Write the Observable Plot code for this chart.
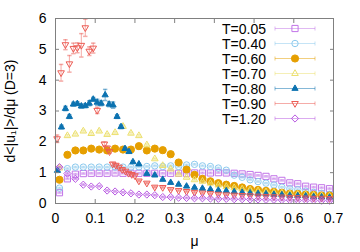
<!DOCTYPE html>
<html>
<head>
<meta charset="utf-8">
<script src="https://cdn.jsdelivr.net/npm/d3@7"></script>
<script src="https://cdn.jsdelivr.net/npm/@observablehq/plot@0.6"></script>
<style>
html,body{margin:0;padding:0;background:#fff;}
#chart{width:360px;height:252px;}
</style>
</head>
<body>
<div id="chart"></div>
<script>
// ---------- data ----------
const names = ["T=0.05","T=0.40","T=0.60","T=0.70","T=0.80","T=0.90","T=1.20"];
const xTicks = [0,0.1,0.2,0.3,0.4,0.5,0.6,0.7];
const yTicks = [0,1,2,3,4,5,6];
const xLabel = "μ";
const yLabel = "d<|u₁|>/dμ (D=3)";

const mu = [0.01,0.03,0.05,0.07,0.09,0.11,0.13,0.15,0.17,0.19,0.21,0.23,0.25,0.27,0.29,0.31,0.33,0.35,0.37,0.39,0.41,0.43,0.45,0.47,0.49,0.51,0.53,0.55,0.57,0.59,0.61,0.63,0.65,0.67,0.69];

const yT005 = [0.35,0.80,0.95,0.97,0.98,0.98,0.98,0.99,0.98,0.98,0.98,0.98,0.98,0.98,0.98,0.98,0.98,0.99,0.99,0.99,1.00,0.99,0.98,0.96,0.94,0.91,0.88,0.80,0.75,0.67,0.64,0.56,0.53,0.51,0.48];
const eT005 = [0.02,0.02,0.02,0.02,0.02,0.02,0.02,0.02,0.02,0.02,0.02,0.02,0.02,0.02,0.02,0.02,0.02,0.02,0.02,0.02,0.02,0.02,0.02,0.02,0.02,0.02,0.02,0.02,0.02,0.02,0.02,0.02,0.02,0.02,0.02];

const yT040 = [0.50,1.13,1.18,1.18,1.18,1.18,1.18,1.18,1.18,1.18,1.19,1.20,1.22,1.20,1.22,1.20,1.25,1.27,1.22,1.20,1.15,1.08,0.92,0.85,0.77,0.71,0.66,0.60,0.53,0.48,0.45,0.40,0.36,0.33,0.30];
const eT040 = [0.02,0.02,0.02,0.02,0.02,0.02,0.02,0.02,0.02,0.02,0.02,0.02,0.02,0.02,0.02,0.02,0.02,0.02,0.02,0.02,0.02,0.02,0.02,0.02,0.02,0.02,0.02,0.02,0.02,0.02,0.02,0.02,0.02,0.02,0.02];

const yT060 = [0.77,1.58,1.72,1.72,1.78,1.75,1.72,1.78,1.75,1.75,1.86,1.72,1.78,1.73,1.60,1.33,1.10,0.93,0.80,0.72,0.66,0.61,0.57,0.52,0.47,0.44,0.41,0.38,0.35,0.32,0.31,0.29,0.28,0.26,0.26];
const eT060 = [0.02,0.02,0.02,0.02,0.02,0.02,0.02,0.02,0.02,0.02,0.02,0.02,0.02,0.02,0.02,0.02,0.02,0.02,0.02,0.02,0.02,0.02,0.02,0.02,0.02,0.02,0.02,0.02,0.02,0.02,0.02,0.02,0.02,0.02,0.02];

const yT070 = [1.15,2.20,2.25,2.35,2.27,2.35,2.24,2.30,2.50,2.28,2.20,1.90,1.45,1.23,1.12,0.95,0.85,0.77,0.72,0.66,0.60,0.55,0.51,0.47,0.44,0.41,0.38,0.36,0.34,0.32,0.30,0.28,0.27,0.25,0.24];
const eT070 = [0.03,0.03,0.03,0.03,0.03,0.03,0.03,0.03,0.03,0.03,0.03,0.03,0.02,0.02,0.02,0.02,0.02,0.02,0.02,0.02,0.02,0.02,0.02,0.02,0.02,0.02,0.02,0.02,0.02,0.02,0.02,0.02,0.02,0.02,0.02];

const muT080 = [0.005,0.015,0.025,0.035,0.045,0.055,0.065,0.075,0.085,0.095,0.105,0.115,0.125,0.135,0.145,0.155,0.165,0.175,0.185,0.195,0.21,0.23,0.25,0.27,0.29,0.31,0.33,0.35,0.37,0.39,0.41,0.43,0.45,0.47,0.49,0.51,0.53,0.55,0.57,0.59,0.61,0.63,0.65,0.67,0.69];
const yT080 = [1.07,2.48,3.08,2.82,3.22,3.24,3.16,3.17,3.25,3.38,3.28,3.25,3.52,3.22,3.19,2.82,2.49,1.78,1.68,1.35,1.28,0.97,0.92,0.78,0.68,0.62,0.56,0.52,0.49,0.46,0.43,0.41,0.38,0.36,0.34,0.32,0.31,0.29,0.28,0.26,0.25,0.24,0.22,0.21,0.20];
const eT080 = [0.05,0.06,0.07,0.06,0.06,0.06,0.07,0.06,0.08,0.06,0.10,0.08,0.18,0.08,0.10,0.06,0.06,0.05,0.04,0.04,0.02,0.02,0.02,0.02,0.02,0.02,0.02,0.02,0.02,0.02,0.02,0.02,0.02,0.02,0.02,0.02,0.02,0.02,0.02,0.02,0.02,0.02,0.02,0.02,0.02];

const muT090 = [0.004,0.014,0.025,0.035,0.045,0.055,0.065,0.075,0.085,0.095,0.105,0.123,0.130,0.136,0.144,0.152,0.160,0.168,0.176,0.184,0.192,0.200,0.21,0.23,0.25,0.27,0.29,0.31,0.33,0.35,0.37,0.39,0.41,0.43,0.45,0.47,0.49,0.51,0.53,0.55,0.57,0.59,0.61,0.63,0.65,0.67,0.69];
const yT090 = [2.10,4.24,5.15,4.53,5.03,5.05,5.13,5.70,4.94,5.04,3.02,1.93,1.80,1.68,1.28,1.24,1.18,1.10,1.05,0.98,0.94,0.90,0.73,0.66,0.53,0.52,0.45,0.42,0.39,0.36,0.34,0.32,0.30,0.28,0.27,0.26,0.25,0.24,0.23,0.22,0.21,0.20,0.19,0.18,0.17,0.17,0.16];
const eT090 = [0.12,0.27,0.16,0.27,0.17,0.16,0.38,0.28,0.14,0.16,0.10,0.06,0.05,0.05,0.05,0.04,0.04,0.04,0.04,0.04,0.03,0.03,0.02,0.02,0.02,0.02,0.02,0.02,0.02,0.02,0.02,0.02,0.02,0.02,0.02,0.02,0.02,0.02,0.02,0.02,0.02,0.02,0.02,0.02,0.02,0.02,0.02];

const yT120 = [1.18,0.97,0.80,0.61,0.55,0.56,0.42,0.39,0.36,0.33,0.29,0.29,0.27,0.21,0.21,0.19,0.18,0.17,0.17,0.16,0.15,0.15,0.14,0.14,0.13,0.13,0.12,0.12,0.11,0.11,0.10,0.10,0.10,0.09,0.09];
const eT120 = [0.02,0.02,0.02,0.02,0.02,0.02,0.02,0.02,0.02,0.02,0.02,0.02,0.02,0.02,0.02,0.02,0.02,0.02,0.02,0.02,0.02,0.02,0.02,0.02,0.02,0.02,0.02,0.02,0.02,0.02,0.02,0.02,0.02,0.02,0.02];

const seriesX = [mu, mu, mu, mu, muT080, muT090, mu];
const seriesY = [yT005, yT040, yT060, yT070, yT080, yT090, yT120];
const seriesE = [eT005, eT040, eT060, eT070, eT080, eT090, eT120];

// ---------- symbols & styles ----------
const rad = size => Math.sqrt(size / Math.PI);
const symSquare = {draw(c, s){const r = rad(s); c.moveTo(-r,-r); c.lineTo(r,-r); c.lineTo(r,r); c.lineTo(-r,r); c.closePath();}};
const symCircle = {draw(c, s){const r = rad(s); c.moveTo(r,0); c.arc(0,0,r,0,2*Math.PI); c.closePath();}};
const symTriUp = {draw(c, s){const r = rad(s); c.moveTo(0,-r*1.15); c.lineTo(r,r*0.6); c.lineTo(-r,r*0.6); c.closePath();}};
const symTriDown = {draw(c, s){const r = rad(s); c.moveTo(0,r*1.15); c.lineTo(r,-r*0.6); c.lineTo(-r,-r*0.6); c.closePath();}};
const symDiamond = {draw(c, s){const r = rad(s); c.moveTo(0,-r); c.lineTo(r,0); c.lineTo(0,r); c.lineTo(-r,0); c.closePath();}};
const symCap = {draw(c, s){const r = rad(s); c.moveTo(-r,0); c.lineTo(r,0);}};

const styles = [
  {color:"#c274e8", symbol:symSquare,  r:3.1, filled:false},
  {color:"#8ccaee", symbol:symCircle,  r:3.2, filled:false},
  {color:"#e69f00", symbol:symCircle,  r:3.6, filled:true},
  {color:"#ece06e", symbol:symTriUp,   r:3.3, filled:false},
  {color:"#0b72b0", symbol:symTriUp,   r:3.1, filled:true},
  {color:"#ec5a52", symbol:symTriDown, r:3.3, filled:false},
  {color:"#b858e2", symbol:symDiamond, r:3.6, filled:false}
];
const FONT = "Liberation Sans, Arial, Helvetica, sans-serif";
const FRAME = "#808080";

// ---------- marks ----------
const marks = [];
names.forEach((name, i) => {
  const rows = seriesX[i].map((x, j) => ({x, y: seriesY[i][j], e: seriesE[i][j]}));
  const st = styles[i];
  marks.push(Plot.ruleX(rows, {x:"x", y1:d => d.y - d.e, y2:d => d.y + d.e, stroke:st.color, strokeOpacity:0.5}));
  marks.push(Plot.dot(rows, {x:"x", y:d => d.y - d.e, symbol:symCap, r:2.2, stroke:st.color, strokeOpacity:0.5, fill:"none"}));
  marks.push(Plot.dot(rows, {x:"x", y:d => d.y + d.e, symbol:symCap, r:2.2, stroke:st.color, strokeOpacity:0.5, fill:"none"}));
  marks.push(Plot.dot(rows, {x:"x", y:"y", symbol:st.symbol, r:st.r, stroke:st.color, strokeWidth:1, fill:st.filled ? st.color : "none"}));
});

// legend (inside frame, top-right), drawn in the same SVG
marks.push((index, scales, values, dims) => {
  const g = d3.create("svg:g").attr("font-family", FONT).attr("font-size", 14);
  const right = dims.width - dims.marginRight;
  names.forEach((name, i) => {
    const st = styles[i];
    const y = dims.marginTop + 10.5 + 15 * i;
    g.append("text").attr("x", right - 67).attr("y", y).attr("dy", "0.36em")
      .attr("text-anchor", "end").attr("fill", "#000").text(name);
    const lx1 = right - 58, lx2 = right - 18, lm = right - 38;
    g.append("line").attr("x1", lx1).attr("x2", lx2).attr("y1", y).attr("y2", y)
      .attr("stroke", st.color).attr("stroke-opacity", 0.5);
    [lx1, lx2].forEach(xx => g.append("line").attr("x1", xx).attr("x2", xx).attr("y1", y - 2).attr("y2", y + 2)
      .attr("stroke", st.color).attr("stroke-opacity", 0.5));
    g.append("path").attr("d", d3.symbol(st.symbol, st.r * st.r * Math.PI)())
      .attr("transform", `translate(${lm},${y})`)
      .attr("stroke", st.color).attr("fill", st.filled ? st.color : "none");
  });
  return g.node();
});

marks.push(
  Plot.axisX(xTicks, {anchor:"bottom", tickSize:0, tickPadding:10, tickFormat:d => String(d), fontSize:14,
    label:xLabel, labelAnchor:"center", labelOffset:42, labelArrow:"none"}),
  Plot.axisX(xTicks, {anchor:"bottom", tickSize:4, dy:-4, tickFormat:() => "", label:null, stroke:FRAME}),
  Plot.axisX(xTicks, {anchor:"top", tickSize:4, dy:4, tickFormat:() => "", label:null, stroke:FRAME}),
  Plot.axisY(yTicks, {anchor:"left", tickSize:0, tickPadding:9, tickFormat:d => String(d), fontSize:14,
    label:yLabel, labelAnchor:"center", labelOffset:50, labelArrow:"none"}),
  Plot.axisY(yTicks, {anchor:"left", tickSize:4, dx:4, tickFormat:() => "", label:null, stroke:FRAME}),
  Plot.axisY(yTicks, {anchor:"right", tickSize:4, dx:-4, tickFormat:() => "", label:null, stroke:FRAME}),
  Plot.frame({stroke:FRAME})
);

const chart = Plot.plot({
  width:360, height:252,
  marginLeft:55, marginRight:27, marginTop:18, marginBottom:49,
  x:{domain:[0,0.7]},
  y:{domain:[0,6]},
  style:{fontFamily:FONT, fontSize:"14px", color:"#000", background:"#fff"},
  marks
});
document.getElementById("chart").appendChild(chart);
</script>
</body>
</html>
